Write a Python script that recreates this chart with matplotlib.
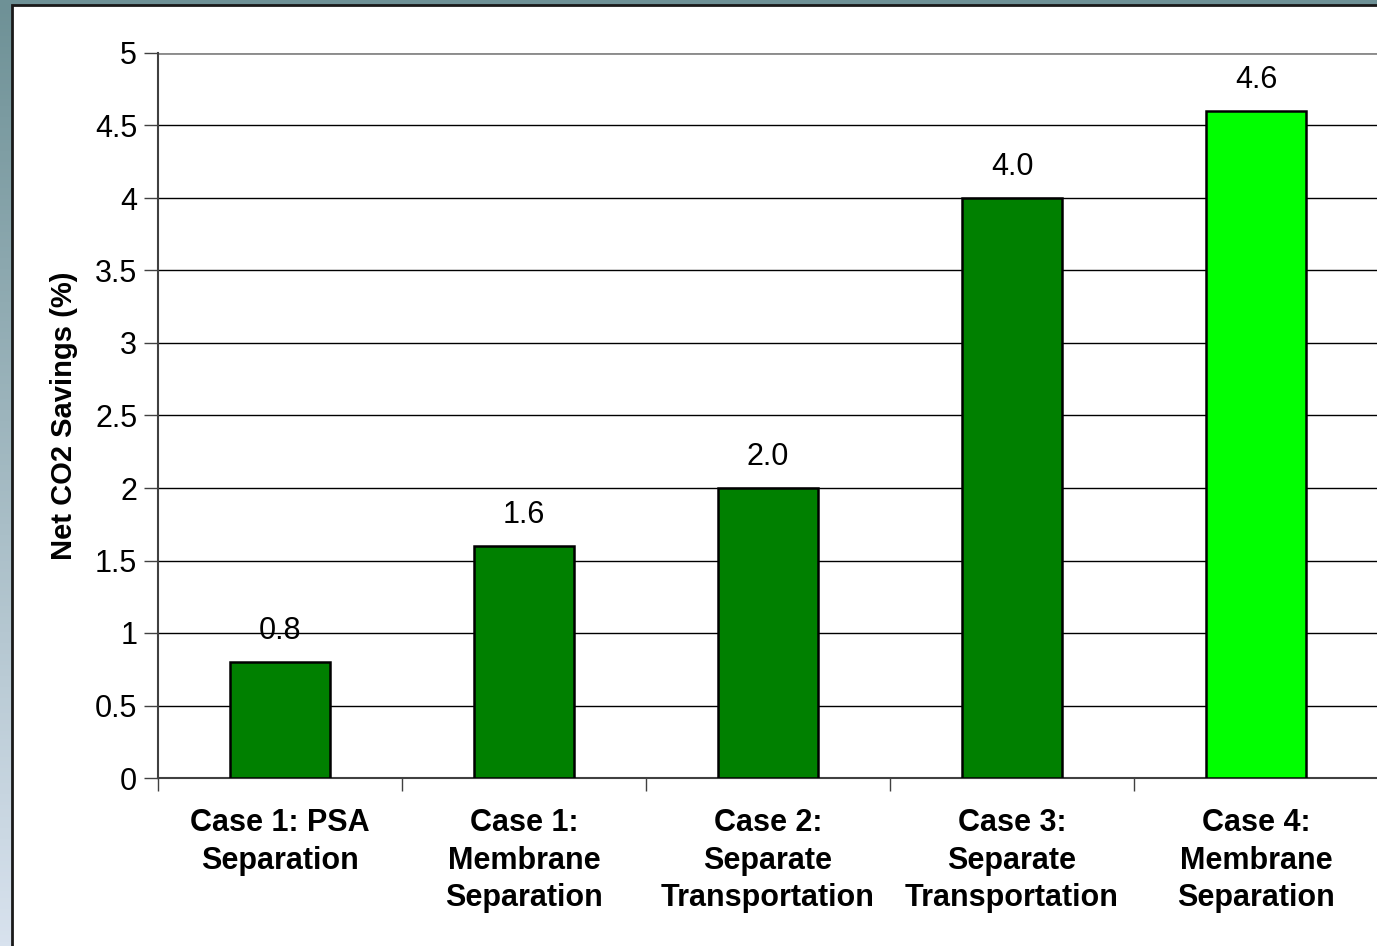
import numpy as np
import matplotlib.pyplot as plt
from matplotlib.patches import Rectangle

plt.rcParams['font.family'] = ['Liberation Sans', 'DejaVu Sans']

# data
cases = ['Case 1: PSA\nSeparation', 'Case 1:\nMembrane\nSeparation',
         'Case 2:\nSeparate\nTransportation', 'Case 3:\nSeparate\nTransportation',
         'Case 4:\nMembrane\nSeparation']
savings = [0.8, 1.6, 2.0, 4.0, 4.6]
bar_colors = ['#008000', '#008000', '#008000', '#008000', '#00ff00']

fig = plt.figure(figsize=(13.77, 9.46), dpi=100)

# slide-style background: teal-to-pale-blue gradient with a white panel
bg = fig.add_axes([0, 0, 1, 1], zorder=-10)
grad = np.linspace(0, 1, 256).reshape(-1, 1)
top_c = np.array([0x6e, 0x91, 0x96]) / 255
bot_c = np.array([0xd8, 0xe2, 0xee]) / 255
img = top_c + (bot_c - top_c) * grad[:, :, None]
bg.imshow(img, aspect='auto', extent=[0, 1, 0, 1], origin='upper')
bg.add_patch(Rectangle((12 / 1377, -0.01), 1.01, (946 - 5) / 946 + 0.01,
                       facecolor='white', edgecolor='#1a1a1a', linewidth=2))
bg.set_xlim(0, 1)
bg.set_ylim(0, 1)
bg.axis('off')

ax = fig.add_axes([158 / 1377, 168 / 946, 1220 / 1377, 725 / 946])
x = np.arange(len(cases))
ax.bar(x, savings, width=0.41, color=bar_colors, edgecolor='black',
       linewidth=1.8, zorder=3)
for xi, v in zip(x, savings):
    ax.text(xi, v + 0.11, f'{v:.1f}', ha='center', va='bottom', fontsize=22)

ax.set_xlim(-0.5, len(cases) - 0.5)
ax.set_ylim(0, 5)
ax.set_yticks(np.arange(0, 5.01, 0.5))
ax.set_yticklabels(['0', '0.5', '1', '1.5', '2', '2.5', '3', '3.5', '4', '4.5', '5'])
ax.yaxis.grid(True, color='black', linewidth=1)
ax.set_axisbelow(True)
ax.set_facecolor('white')

# category separators as x ticks
ax.set_xticks(np.arange(-0.5, len(cases), 1))
ax.set_xticklabels([])
ax.tick_params(axis='x', length=9, width=1, color='#404040')
ax.tick_params(axis='y', length=10, width=1, labelsize=22, pad=5, color='#404040')
for xi, lab in zip(x, cases):
    ax.text(xi, -0.21, lab, ha='center', va='top', fontsize=22,
            fontweight='bold', linespacing=1.32)

for s in ['top', 'right']:
    ax.spines[s].set_visible(False)
ax.spines['left'].set_color('#404040')
ax.spines['left'].set_linewidth(1.5)
ax.spines['bottom'].set_color('#404040')
ax.spines['bottom'].set_linewidth(1.5)
ax.axhline(5, color='#8c8c8c', linewidth=2, zorder=2)

ax.set_ylabel('Net CO2 Savings (%)', fontsize=21, fontweight='bold', labelpad=12)

fig.savefig('out.png', dpi=100)
